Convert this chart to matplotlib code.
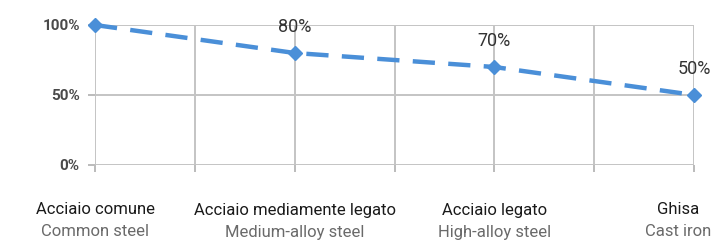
import matplotlib.pyplot as plt
import matplotlib.transforms as mtransforms

# dati
categories_it = ['Acciaio comune', 'Acciaio mediamente legato', 'Acciaio legato', 'Ghisa']
categories_en = ['Common steel', 'Medium-alloy steel', 'High-alloy steel', 'Cast iron']
values = [1.0, 0.8, 0.7, 0.5]
point_labels = ['', '80%', '70%', '50%']
ytick_values = [0, 0.5, 1.0]
ytick_labels = ['0%', '50%', '100%']

plt.rcParams['font.family'] = ['Roboto', 'DejaVu Sans']

fig = plt.figure(figsize=(7.16, 2.41), dpi=100)
ax = fig.add_axes([95 / 716, 1 - 165 / 241, 599 / 716, 140 / 241])

x = list(range(len(values)))
ax.plot(x, values, color='#4a8fd8', linestyle=(0, (5, 3)), linewidth=3.2,
        marker='D', markersize=7, zorder=3, clip_on=False)

for xi, v, lab in zip(x, values, point_labels):
    if lab:
        ax.annotate(lab, (xi, v), xytext=(0, 19), textcoords='offset points',
                    ha='center', va='center', fontsize=13, color='#333333')

ax.set_xlim(0, 3)
ax.set_ylim(0, 1)
ax.set_xticks([0, 0.5, 1, 1.5, 2, 2.5, 3])
ax.set_xticklabels([])
ax.set_yticks(ytick_values)
ax.set_yticklabels(ytick_labels, fontsize=11, fontweight='bold', color='#4a4a4a')
ax.grid(True, color='#c4c4c4', linewidth=1.4)
ax.tick_params(axis='both', length=5, color='#bbbbbb', width=1.4, pad=6)
for s in ax.spines.values():
    s.set_visible(False)
ax.set_axisbelow(True)

trans = mtransforms.blended_transform_factory(ax.transData, fig.transFigure)
for xi, it, en in zip(x, categories_it, categories_en):
    xx = xi - 0.08 if xi == 3 else xi
    ax.text(xx, 1 - 210 / 241, it, transform=trans, ha='center', va='center',
            fontsize=12, color='#1a1a1a')
    ax.text(xx, 1 - 232 / 241, en, transform=trans, ha='center', va='center',
            fontsize=12, color='#6a6a6a')

fig.savefig('out.png', dpi=100)
